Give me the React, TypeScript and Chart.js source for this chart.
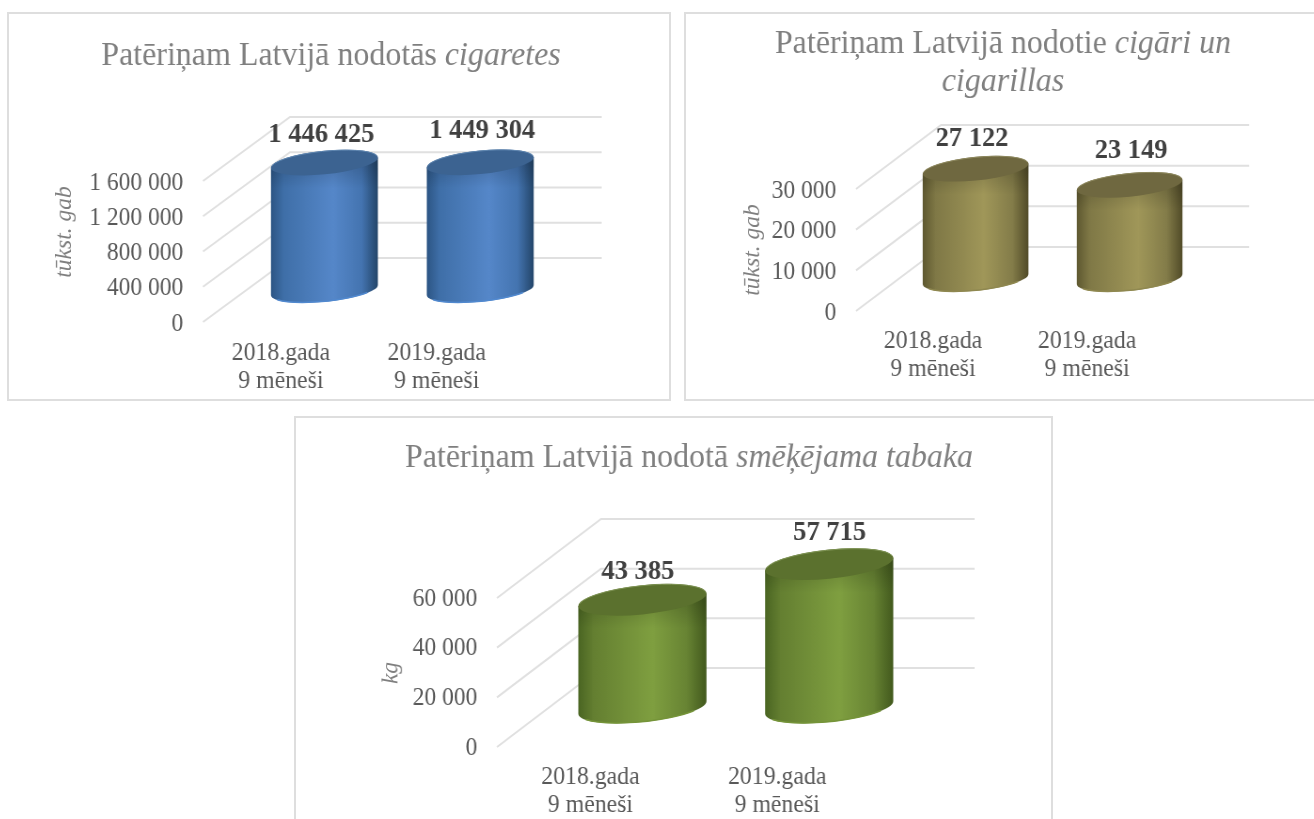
import React, { useEffect, useRef } from "react";
import { Chart, registerables } from "chart.js";

Chart.register(...registerables);

const categories = [["2018.gada", "9 mēneši"], ["2019.gada", "9 mēneši"]];
const cigaretteValues = [1446425, 1449304];
const cigarValues = [27122, 23149];
const tobaccoValues = [43385, 57715];
const cigaretteTickMax = 1600000;
const cigarTickMax = 30000;
const tobaccoTickMax = 60000;
const cigaretteTickStep = 400000;
const cigarTickStep = 10000;
const tobaccoTickStep = 20000;

const SERIF = '"Liberation Serif", "Times New Roman", serif';
const SX = 0.94; // the reference's lettering is slightly condensed horizontally
const fmt = (v: number) => String(Math.round(v)).replace(/\B(?=(\d{3})+(?!\d))/g, " ");

const specs = [
  {
    key: "cig", series: "Patēriņam Latvijā nodotās cigaretes", values: cigaretteValues, max: cigaretteTickMax, step: cigaretteTickStep,
    frame: { x: 7, y: 12, w: 664, h: 389 }, plot: { left: 203, right: 515, top: 181, bottom: 322 },
    depth: { dx: 87, dy: -64 },
    title: [{ x: 331, y: 65, runs: [["Patēriņam Latvijā nodotās ", false], ["cigaretes", true]] }],
    axisTitle: { text: "tūkst. gab", x: 65, y: 232 },
    nudge: [[-3, -29], [2, -33]],
    xPad: 10, yShift: 2,
    palette: { edgeL: "#2c5584", midL: "#3f6fa8", mid: "#5587c9", midR: "#4474b0", edgeR: "#234569", top: "#3c6391", rim: "#5189cf", rimTop: "#5f86b0" },
  },
  {
    key: "cigar", series: "Patēriņam Latvijā nodotie cigāri un cigarillas", values: cigarValues, max: cigarTickMax, step: cigarTickStep,
    frame: { x: 684, y: 12, w: 640, h: 389 }, plot: { left: 856, right: 1164, top: 189, bottom: 311 },
    depth: { dx: 85, dy: -64 },
    title: [
      { x: 1003, y: 53, runs: [["Patēriņam Latvijā nodotie ", false], ["cigāri un", true]] },
      { x: 1003, y: 91, runs: [["cigarillas", true]] },
    ],
    axisTitle: { text: "tūkst. gab", x: 753, y: 250 },
    nudge: [[-3.5, -31], [1.5, -35]],
    xPad: 9, yShift: 2,
    palette: { edgeL: "#5e5830", midL: "#7f7846", mid: "#a09759", midR: "#837c49", edgeR: "#514b28", top: "#6f6840", rim: "#8f8850", rimTop: "#8f8a60" },
  },
  {
    key: "tob", series: "Patēriņam Latvijā nodotā smēķējama tabaka", values: tobaccoValues, max: tobaccoTickMax, step: tobaccoTickStep,
    frame: { x: 294, y: 416, w: 759, h: 420 }, plot: { left: 497, right: 871, top: 598, bottom: 747 },
    depth: { dx: 104, dy: -79 },
    title: [{ x: 689, y: 467, runs: [["Patēriņam Latvijā nodotā ", false], ["smēķējama tabaka", true]] }],
    axisTitle: { text: "kg", x: 391, y: 673 },
    nudge: [[-4.5, -29.5], [0.5, -32]],
    xPad: 9, yShift: 1,
    palette: { edgeL: "#4a6522", midL: "#647f31", mid: "#7f9f40", midR: "#678333", edgeR: "#42591d", top: "#5b712e", rim: "#759439", rimTop: "#7f9455" },
  },
];

const cylinderPlugin = {
  id: "cylinder3d",
  beforeDatasetDraw(chart: any, args: any, opts: any) {
    const ctx = chart.ctx as CanvasRenderingContext2D;
    const dx = opts.depth.dx / SX;
    const dy = opts.depth.dy;
    const depthAbs = Math.abs(dy);
    const area = chart.chartArea;
    const yScale = chart.scales.y;

    // walls
    ctx.save();
    ctx.strokeStyle = "#e0e0e0";
    ctx.lineWidth = 2;
    yScale.ticks.forEach((t: any) => {
      const py = yScale.getPixelForValue(t.value);
      ctx.beginPath();
      ctx.moveTo(area.left, py);
      ctx.lineTo(area.left + dx, py + dy);
      ctx.lineTo(area.right + dx, py + dy);
      ctx.stroke();
    });
    ctx.restore();

    // cylinders
    const pal = opts.palette;
    const meta = args.meta;
    meta.data.forEach((el: any, i: number) => {
      const { x, y, base, width } = el.getProps(["x", "y", "base", "width"], true);
      const cx = x + dx / 2;
      const botY = base + dy / 2;
      const topY = y + dy / 2;
      const a = width / 2;
      const b = 0.185 * depthAbs;
      const k = (0.08 * depthAbs) / a;
      const h = botY - topY;

      const body = ctx.createLinearGradient(cx - a, 0, cx + a, 0);
      body.addColorStop(0, pal.edgeL);
      body.addColorStop(0.12, pal.midL);
      body.addColorStop(0.58, pal.mid);
      body.addColorStop(0.85, pal.midR);
      body.addColorStop(1, pal.edgeR);

      ctx.save();
      ctx.save();
      ctx.transform(1, -k, 0, 1, cx, botY);
      ctx.beginPath();
      ctx.moveTo(-a, -h);
      ctx.lineTo(-a, 0);
      ctx.ellipse(0, 0, a, b, 0, Math.PI, 0, true);
      ctx.lineTo(a, -h);
      ctx.closePath();
      ctx.restore();
      ctx.fillStyle = body;
      ctx.fill();

      // soft bevel under the lid
      const bevel = ctx.createLinearGradient(0, topY + 2, 0, topY + b + 14);
      bevel.addColorStop(0, "rgba(0,0,0,0.16)");
      bevel.addColorStop(1, "rgba(0,0,0,0)");
      ctx.fillStyle = bevel;
      ctx.fill();

      // rim along the foot
      ctx.save();
      ctx.transform(1, -k, 0, 1, cx, botY);
      ctx.beginPath();
      ctx.ellipse(0, 0, a - 0.5, b - 0.5, 0, Math.PI * 0.85, Math.PI * 0.2, true);
      ctx.restore();
      ctx.strokeStyle = pal.rim;
      ctx.lineWidth = 1.5;
      ctx.stroke();

      // lid
      ctx.save();
      ctx.transform(1, -k, 0, 1, cx, topY);
      ctx.beginPath();
      ctx.ellipse(0, 0, a, b, 0, 0, Math.PI * 2);
      ctx.restore();
      ctx.fillStyle = pal.top;
      ctx.fill();
      ctx.save();
      ctx.transform(1, -k, 0, 1, cx, topY);
      ctx.beginPath();
      ctx.ellipse(0, 0, a - 0.5, b - 0.5, 0, Math.PI * 1.05, Math.PI * 1.95);
      ctx.restore();
      ctx.strokeStyle = pal.rimTop;
      ctx.lineWidth = 1;
      ctx.stroke();
      ctx.restore();

      // value label
      const v = chart.data.datasets[args.index].data[i];
      const n = opts.nudge[i];
      ctx.save();
      ctx.font = `bold 28.2px ${SERIF}`;
      ctx.fillStyle = "#404040";
      ctx.textAlign = "center";
      ctx.textBaseline = "middle";
      ctx.fillText(fmt(v), cx + n[0] / SX, topY + n[1] + 1);
      ctx.restore();
    });
    return false;
  },
  afterDraw(chart: any, _args: any, opts: any) {
    const ctx = chart.ctx as CanvasRenderingContext2D;
    const { frame } = opts;
    // title with an italic run
    ctx.save();
    ctx.textBaseline = "alphabetic";
    ctx.textAlign = "left";
    ctx.fillStyle = "#7f7f7f";
    opts.title.forEach((line: any) => {
      const fonts = line.runs.map((r: any) => `${r[1] ? "italic " : ""}34px ${SERIF}`);
      let total = 0;
      line.runs.forEach((r: any, i: number) => {
        ctx.font = fonts[i];
        total += ctx.measureText(r[0]).width;
      });
      let px = (line.x - frame.x) / SX - total / 2;
      line.runs.forEach((r: any, i: number) => {
        ctx.font = fonts[i];
        ctx.fillText(r[0], px, line.y - frame.y);
        px += ctx.measureText(r[0]).width;
      });
    });
    // y axis caption
    ctx.translate((opts.axisTitle.x - frame.x) / SX, opts.axisTitle.y - frame.y);
    ctx.rotate(-Math.PI / 2);
    ctx.scale(1, 1 / SX);
    ctx.textAlign = "center";
    ctx.textBaseline = "middle";
    ctx.font = `italic 23.5px ${SERIF}`;
    ctx.fillText(opts.axisTitle.text, 0, 0);
    ctx.restore();
  },
};

function Panel({ spec }: { spec: (typeof specs)[number] }) {
  const ref = useRef<HTMLCanvasElement | null>(null);
  useEffect(() => {
    const { frame, plot } = spec;
    const yWidth = 130;
    const xHeight = 90;
    const chart = new Chart(ref.current as HTMLCanvasElement, {
      type: "bar",
      data: {
        labels: categories,
        datasets: [
          {
            label: spec.series,
            data: spec.values,
            backgroundColor: spec.palette.mid,
            barPercentage: 0.686,
            categoryPercentage: 1,
          },
        ],
      },
      plugins: [cylinderPlugin],
      options: {
        responsive: false,
        animation: false,
        layout: {
          padding: {
            left: (plot.left - frame.x) / SX - yWidth,
            right: (frame.x + frame.w - plot.right) / SX,
            top: plot.top - frame.y,
            bottom: frame.y + frame.h - plot.bottom - xHeight,
          },
        },
        plugins: {
          legend: { display: false },
          tooltip: { enabled: false },
          title: { display: false },
          cylinder3d: spec,
        } as any,
        scales: {
          x: {
            grid: { display: false },
            border: { display: false },
            afterFit: (s: any) => { s.height = xHeight; },
            ticks: {
              color: "#595959",
              padding: spec.xPad,
              maxRotation: 0,
              minRotation: 0,
              autoSkip: false,
              font: { family: SERIF, size: 25.3, lineHeight: 1.09 },
            },
          },
          y: {
            min: 0,
            max: spec.max,
            grid: { display: false },
            border: { display: false },
            afterFit: (s: any) => { s.width = yWidth; },
            ticks: {
              stepSize: spec.step,
              color: "#595959",
              padding: 13,
              labelOffset: spec.yShift,
              callback: (v: any) => fmt(Number(v)),
              font: { family: SERIF, size: 25 },
            },
          },
        },
      } as any,
    });
    return () => chart.destroy();
  }, [spec]);
  const { frame } = spec;
  return (
    <div style={{ position: "absolute", left: frame.x, top: frame.y, width: frame.w, height: frame.h, boxShadow: "inset 0 0 0 2px #dedede" }}>
      <canvas
        ref={ref}
        width={Math.round(frame.w / SX)}
        height={frame.h}
        style={{ position: "absolute", left: 0, top: 0, transformOrigin: "0 0", transform: `scaleX(${SX})`, filter: "blur(0.5px)" }}
      />
    </div>
  );
}

export default function App() {
  return (
    <div style={{ position: "fixed", left: 0, top: 0, width: 1314, height: 819, overflow: "hidden", background: "#fff" }}>
      {specs.map((s) => (
        <Panel key={s.key} spec={s} />
      ))}
    </div>
  );
}
